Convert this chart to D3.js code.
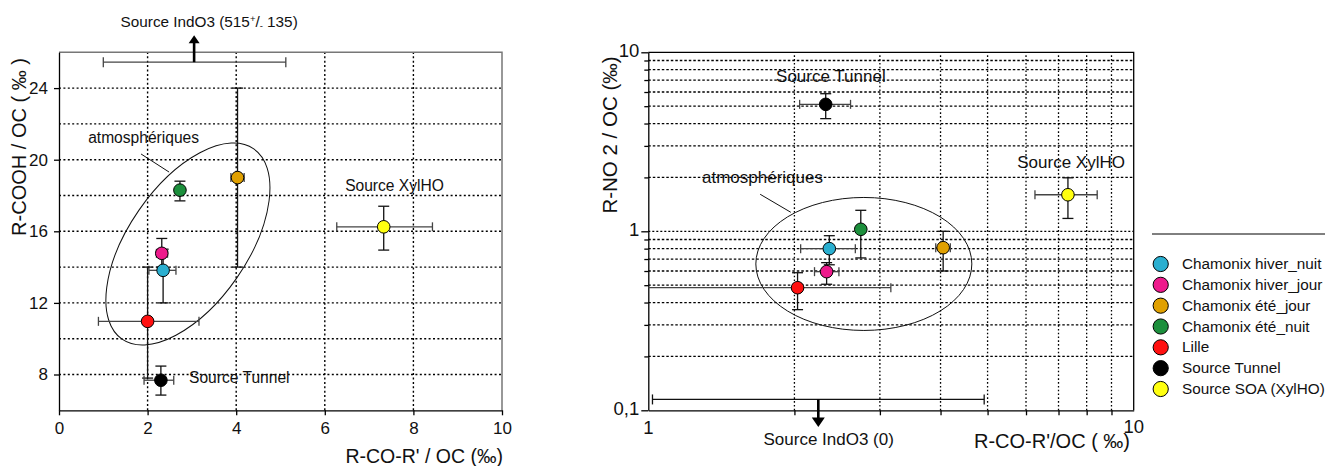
<!DOCTYPE html>
<html><head><meta charset="utf-8">
<script src="https://cdn.jsdelivr.net/npm/d3@7"></script>
<style>
body{margin:0;background:#fff}
text{font-family:"Liberation Sans",Arial,Helvetica,sans-serif;fill:#111}
</style></head>
<body><svg id="c" width="1325" height="466"></svg>
<script>
// ---------- DATA ----------
const seriesNames = ["Chamonix hiver_nuit","Chamonix hiver_jour","Chamonix été_jour","Chamonix été_nuit","Lille","Source Tunnel","Source SOA (XylHO)"];
const seriesColors = ["#2AAFD0","#EE1A8C","#E0A000","#1C8F3C","#FF1010","#000000","#FFFF10"];

// Left chart: R-CO-R'/OC (x) vs R-COOH/OC (y), ‰
const leftX    = [2.35, 2.32, 4.03, 2.73, 2.00, 2.30, 7.33];
const leftY    = [13.82,14.77,19.00,18.30,10.97,7.68,16.25];
const leftXLo  = [2.03, 2.20, 3.88, null, 0.89, 1.92, 6.27];
const leftXHi  = [2.64, 2.45, 4.18, null, 3.16, 2.59, 8.43];
const leftYLo  = [12.00,14.00,14.00,17.70,7.80, 6.85, 14.95];
const leftYHi  = [15.00,15.60,24.00,18.80,14.00,8.47, 17.40];
const leftXTicks = [0,2,4,6,8,10];
const leftYTicks = [8,12,16,20,24];
const leftIndO3 = {x:3.05, y:25.45, xLo:1.0, xHi:5.12};

// Right chart: R-CO-R'/OC (x) vs R-NO2/OC (y), ‰, log-log
const rightX   = [2.36, 2.33, 4.05, 2.74, 2.03, 2.32, 7.32];
const rightY   = [0.80, 0.595,0.81, 1.026,0.484,5.12, 1.60];
const rightXLo = [2.06, 2.20, 3.91, null, 0.89, 2.05, 6.26];
const rightXHi = [2.67, 2.47, 4.19, null, 3.16, 2.61, 8.41];
const rightYLo = [0.65, 0.506,0.60, 0.71, 0.365,4.26, 1.18];
const rightYHi = [0.945,0.668,1.00, 1.31, 0.587,5.87, 1.99];
const rightXMinor = [2,3,4,5,6,7,8,9];
const rightYMinor = [0.2,0.3,0.4,0.5,0.6,0.7,0.8,0.9,2,3,4,5,6,7,8,9];
const rightYMajor = [0.1,1,10];
const rightYTickLabels = ["0,1","1","10"];
const rightIndO3 = {x:2.24, y:0.115, xLo:1.02, xHi:4.92};

// ---------- DRAW ----------
const svg = d3.select("#c");
const FONT = "'Liberation Sans',Arial,sans-serif";

function errorBars(g, xs, ys, xlo, xhi, ylo, yhi, sx, sy, xmin) {
  xs.forEach((x,i)=>{
    const px = sx(x), py = sy(ys[i]);
    if (xlo[i]!=null) {
      const lo = Math.max(xlo[i], xmin), x0 = sx(lo), x1 = sx(xhi[i]);
      g.append("line").attr("x1",x0).attr("x2",x1).attr("y1",py).attr("y2",py).attr("stroke","#444").attr("stroke-width",1.3);
      if (xlo[i] >= xmin) g.append("line").attr("x1",x0).attr("x2",x0).attr("y1",py-4.5).attr("y2",py+4.5).attr("stroke","#444").attr("stroke-width",1.3);
      g.append("line").attr("x1",x1).attr("x2",x1).attr("y1",py-4.5).attr("y2",py+4.5).attr("stroke","#444").attr("stroke-width",1.3);
    }
    if (ylo[i]!=null) {
      const y0 = sy(ylo[i]), y1 = sy(yhi[i]);
      g.append("line").attr("x1",px).attr("x2",px).attr("y1",y0).attr("y2",y1).attr("stroke","#111").attr("stroke-width",1.3);
      [y0,y1].forEach(yy=>g.append("line").attr("x1",px-5.5).attr("x2",px+5.5).attr("y1",yy).attr("y2",yy).attr("stroke","#111").attr("stroke-width",1.3));
    }
  });
}
function points(g, xs, ys, sx, sy) {
  g.selectAll("circle.pt").data(xs).join("circle").attr("class","pt")
    .attr("cx",(d)=>sx(d)).attr("cy",(d,i)=>sy(ys[i])).attr("r",6.3)
    .attr("fill",(d,i)=>seriesColors[i]).attr("stroke","#000").attr("stroke-width",1);
}
function label(g, t, x, y, size, anchor) {
  return g.append("text").attr("x",x).attr("y",y).attr("font-size",size).attr("text-anchor",anchor||"middle").text(t);
}

// ===== LEFT CHART =====
const xL = d3.scaleLinear().domain([0,10]).range([59,502]);
const yL = d3.scaleLinear().domain([6,26]).range([410.3,52.3]);
const gL = svg.append("g");

const gridYL = d3.range(8,25,2);
gL.selectAll("line.gy").data(gridYL).join("line").attr("class","gy")
  .attr("x1",xL(0)).attr("x2",xL(10)).attr("y1",d=>yL(d)).attr("y2",d=>yL(d))
  .attr("stroke","#000").attr("stroke-width",1.4).attr("stroke-dasharray","2,2.4");
gL.selectAll("line.gx").data([2,4,6,8]).join("line").attr("class","gx")
  .attr("x1",d=>xL(d)).attr("x2",d=>xL(d)).attr("y1",yL(6)).attr("y2",yL(26))
  .attr("stroke","#000").attr("stroke-width",1.4).attr("stroke-dasharray","2,2.4");
gL.append("path").attr("d",`M${xL(0)},${yL(26)}H${xL(10)}V${yL(6)}`).attr("fill","none").attr("stroke","#777").attr("stroke-width",1.5);

const axL = gL.append("g").attr("transform",`translate(${xL(0)},0)`)
  .call(d3.axisLeft(yL).tickValues(leftYTicks).tickSize(5).tickSizeOuter(0).tickPadding(6));
const axB = gL.append("g").attr("transform",`translate(0,${yL(6)})`)
  .call(d3.axisBottom(xL).tickValues(leftXTicks).tickSize(5).tickSizeOuter(0).tickPadding(7));
[axL,axB].forEach(a=>{a.selectAll("text").attr("font-size",17).attr("font-family",FONT).attr("fill","#111");
  a.selectAll("line,path").attr("stroke","#000").attr("stroke-width",1.3);});

const elL = [xL(2.91), yL(15.29)];
gL.append("ellipse").attr("cx",0).attr("cy",0).attr("rx",115.7).attr("ry",59.5)
  .attr("transform",`translate(${elL[0]},${elL[1]}) rotate(-55.3)`).attr("fill","none").attr("stroke","#111").attr("stroke-width",1);
gL.append("line").attr("x1",xL(1.852)).attr("y1",yL(20.32)).attr("x2",xL(2.485)).attr("y2",yL(19.31)).attr("stroke","#111").attr("stroke-width",1);
label(gL,"atmosphériques",xL(1.91),yL(20.96),15.6);
label(gL,"Source XylHO",xL(7.574),yL(18.25),15.6);
label(gL,"Source Tunnel",xL(4.07),yL(7.525),15.6);

{
  const py = yL(leftIndO3.y), x0 = xL(leftIndO3.xLo), x1 = xL(leftIndO3.xHi), xa = xL(leftIndO3.x);
  gL.append("line").attr("x1",x0).attr("x2",x1).attr("y1",py).attr("y2",py).attr("stroke","#444").attr("stroke-width",1.3);
  [x0,x1].forEach(xx=>gL.append("line").attr("x1",xx).attr("x2",xx).attr("y1",py-5).attr("y2",py+5).attr("stroke","#444").attr("stroke-width",1.3));
  gL.append("line").attr("x1",xa).attr("x2",xa).attr("y1",py).attr("y2",py-21).attr("stroke","#000").attr("stroke-width",2.6);
  gL.append("path").attr("d",`M${xa-5.5},${py-19}L${xa},${py-27}L${xa+5.5},${py-19}Z`).attr("fill","#000");
  const t = gL.append("text").attr("x",xL(3.39)).attr("y",yL(27.41)).attr("font-size",15.3).attr("text-anchor","middle");
  t.append("tspan").text("Source IndO3 (515");
  t.append("tspan").attr("font-size",9.5).attr("dy",-5).text("+");
  t.append("tspan").attr("dy",5).text("/");
  t.append("tspan").attr("font-size",9.5).attr("dy",2).text("-");
  t.append("tspan").attr("dy",-2).text(" 135)");
}

errorBars(gL,leftX,leftY,leftXLo,leftXHi,leftYLo,leftYHi,xL,yL,0);
points(gL,leftX,leftY,xL,yL);

gL.append("text").attr("transform",`translate(26,147) rotate(-90)`).attr("text-anchor","middle").attr("font-size",20).text("R-COOH / OC ( ‰ )");
label(gL,"R-CO-R' / OC (‰)",503,463,19.5,"end");

// ===== RIGHT CHART =====
const xR = d3.scaleLog().domain([1,10]).range([648.3,1133.7]);
const yR = d3.scaleLog().domain([0.1,10]).range([410.3,52.3]);
const gR = svg.append("g");

gR.selectAll("line.gy").data(rightYMinor).join("line").attr("class","gy")
  .attr("x1",xR(1)).attr("x2",xR(10)).attr("y1",d=>yR(d)).attr("y2",d=>yR(d))
  .attr("stroke","#888").attr("stroke-width",1).attr("stroke-dasharray","2.5,2");
gR.selectAll("line.gx").data(rightXMinor).join("line").attr("class","gx")
  .attr("x1",d=>xR(d)).attr("x2",d=>xR(d)).attr("y1",yR(0.1)).attr("y2",yR(10))
  .attr("stroke","#888").attr("stroke-width",1.2).attr("stroke-dasharray","1.6,2.2");
gR.append("line").attr("x1",xR(1)).attr("x2",xR(10)).attr("y1",yR(1)).attr("y2",yR(1))
  .attr("stroke","#000").attr("stroke-width",1.5).attr("stroke-dasharray","2,2");
gR.append("path").attr("d",`M${xR(1)},${yR(10)}H${xR(10)}V${yR(0.1)}`).attr("fill","none").attr("stroke","#777").attr("stroke-width",1.5);

const axRL = gR.append("g").attr("transform",`translate(${xR(1)},0)`)
  .call(d3.axisLeft(yR).tickValues(rightYMajor).tickFormat((d,i)=>rightYTickLabels[i]).tickSize(7).tickSizeOuter(0).tickPadding(2));
gR.append("g").attr("transform",`translate(${xR(1)},0)`)
  .call(d3.axisLeft(yR).tickValues(rightYMinor).tickFormat("").tickSize(4).tickSizeOuter(0))
  .call(g=>g.select(".domain").remove());
gR.append("g").attr("transform",`translate(0,${yR(0.1)})`)
  .call(d3.axisBottom(xR).tickValues(rightXMinor).tickFormat("").tickSize(5).tickSizeOuter(0));
gR.selectAll("g line, g path").attr("stroke","#000").attr("stroke-width",1.3);
axRL.selectAll("text").attr("font-size",18.5).attr("font-family",FONT).attr("fill","#111").attr("dy","0.2em");
label(gR,"1",xR(1),yR(0.1)+24,18.5);
label(gR,"10",xR(10),yR(0.1)+23,18.5);

gR.append("ellipse").attr("cx",xR(2.78)).attr("cy",yR(0.657)).attr("rx",108).attr("ry",66.5)
  .attr("fill","none").attr("stroke","#111").attr("stroke-width",1);
gR.append("line").attr("x1",xR(1.70)).attr("y1",yR(1.61)).attr("x2",xR(1.966)).attr("y2",yR(1.277)).attr("stroke","#111").attr("stroke-width",1);
label(gR,"atmosphériques",xR(1.719),yR(1.861),17);
label(gR,"Source Tunnel",xR(2.378),yR(6.82),17);
label(gR,"Source XylHO",xR(7.43),yR(2.272),17);

{
  const py = yR(rightIndO3.y), x0 = xR(rightIndO3.xLo), x1 = xR(rightIndO3.xHi), xa = xR(rightIndO3.x);
  gR.append("line").attr("x1",x0).attr("x2",x1).attr("y1",py).attr("y2",py).attr("stroke","#111").attr("stroke-width",1.3);
  [x0,x1].forEach(xx=>gR.append("line").attr("x1",xx).attr("x2",xx).attr("y1",py-5).attr("y2",py+5).attr("stroke","#111").attr("stroke-width",1.3));
  gR.append("line").attr("x1",xa).attr("x2",xa).attr("y1",py).attr("y2",py+20).attr("stroke","#000").attr("stroke-width",2.6);
  gR.append("path").attr("d",`M${xa-6.5},${py+18}L${xa},${py+27.5}L${xa+6.5},${py+18}Z`).attr("fill","#000");
  label(gR,"Source IndO3 (0)",xR(2.353),yR(0.0644),17);
}

errorBars(gR,rightX,rightY,rightXLo,rightXHi,rightYLo,rightYHi,xR,yR,1);
points(gR,rightX,rightY,xR,yR);

gR.append("text").attr("transform",`translate(617,135) rotate(-90)`).attr("text-anchor","middle").attr("font-size",20.5).text("R-NO 2 / OC (‰)");
label(gR,"R-CO-R'/OC ( ‰)",974,448,20,"start");

// ===== LEGEND =====
const gLeg = svg.append("g");
gLeg.append("line").attr("x1",1152).attr("x2",1325).attr("y1",234).attr("y2",234).attr("stroke","#000").attr("stroke-width",1);
const legY = d3.scaleLinear().domain([0,6]).range([264,389]);
seriesNames.forEach((n,i)=>{
  gLeg.append("circle").attr("cx",1160.7).attr("cy",legY(i)).attr("r",7.6).attr("fill",seriesColors[i]).attr("stroke","#000").attr("stroke-width",1);
  gLeg.append("text").attr("x",1182).attr("y",legY(i)+5).attr("font-size",15.3).text(n);
});
</script>
</body></html>
